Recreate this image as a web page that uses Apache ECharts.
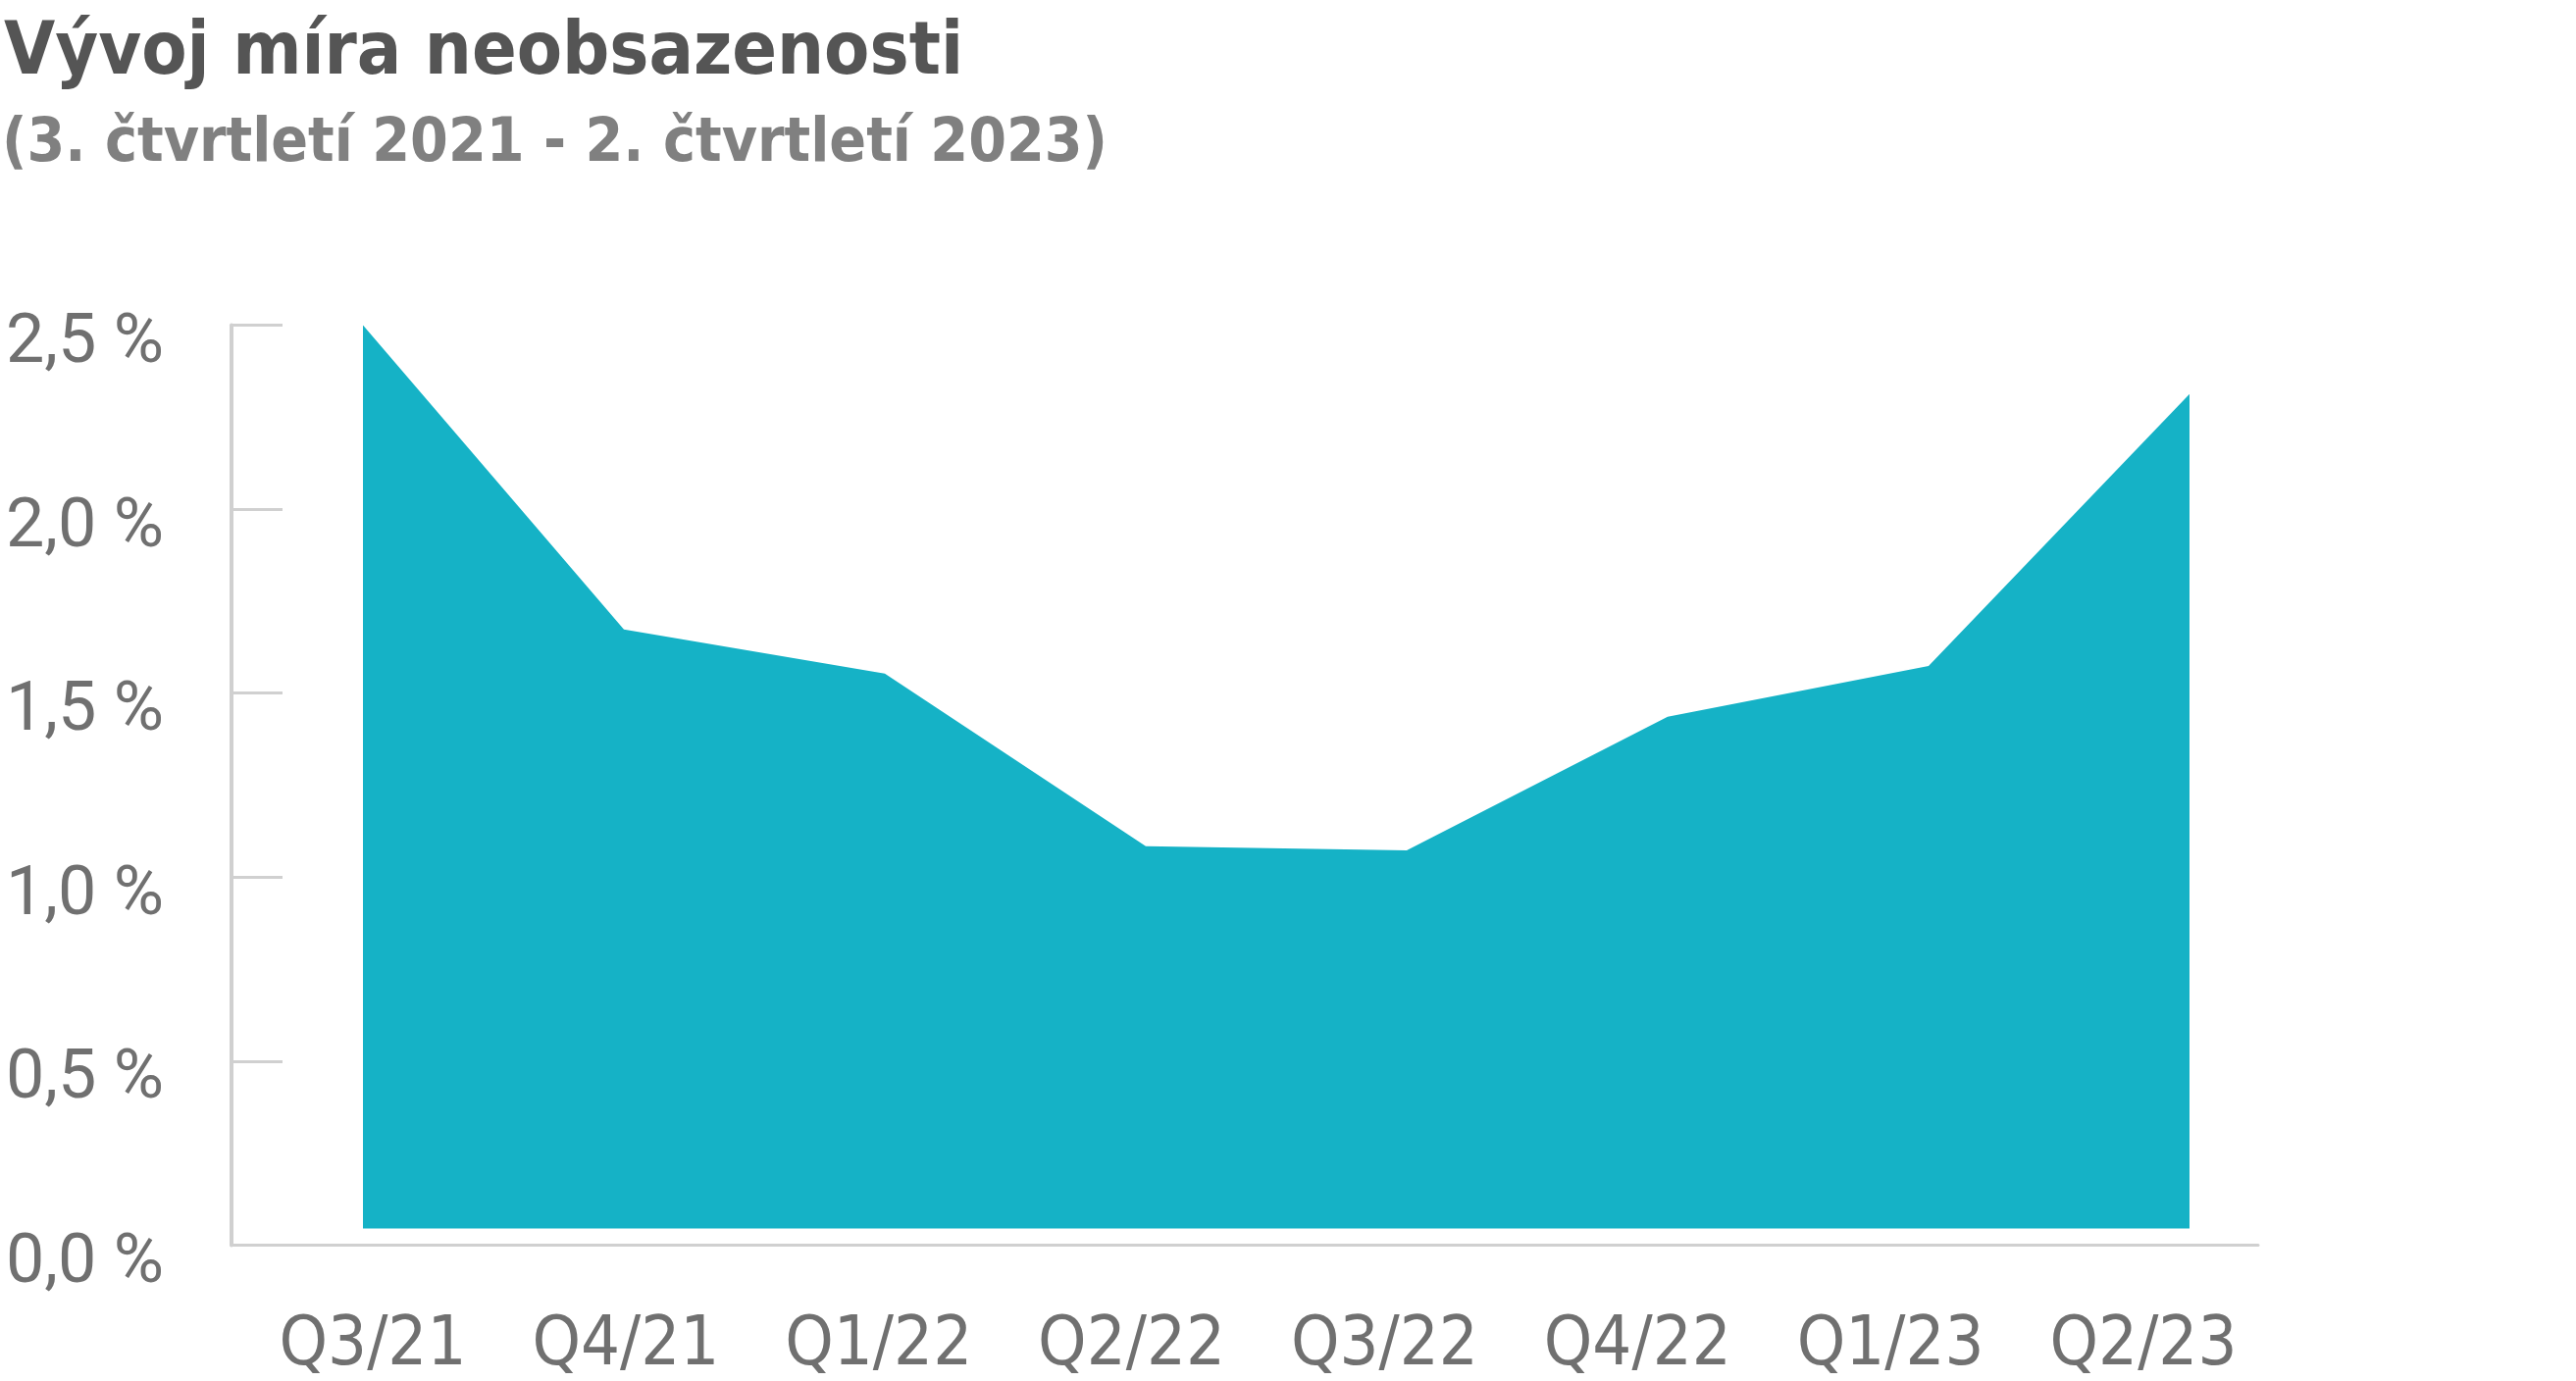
<!DOCTYPE html>
<html>
<head>
<meta charset="utf-8">
<script src="https://cdn.jsdelivr.net/npm/echarts@6/dist/echarts.min.js"></script>
<style>
html,body{margin:0;padding:0;background:#fff;}
#chart{width:2626px;height:1408px;}
</style>
</head>
<body>
<div id="chart"></div>
<script>
const titleText = 'Vývoj míra neobsazenosti';
const subtitleText = '(3. čtvrtletí 2021 - 2. čtvrtletí 2023)';
const categories = ['Q3/21', 'Q4/21', 'Q1/22', 'Q2/22', 'Q3/22', 'Q4/22', 'Q1/23', 'Q2/23'];
const vacancyRate = [2.50, 1.673, 1.553, 1.084, 1.073, 1.436, 1.574, 2.313];
const areaBase = 0.045;
const yTicks = [0, 0.5, 1.0, 1.5, 2.0, 2.5];

const chart = echarts.init(document.getElementById('chart'));
const narrow = '"DejaVu Sans Condensed", "DejaVu Sans", sans-serif';
const fmt = v => v.toFixed(1).replace('.', ',') + ' %';
const yMin = yTicks[0], yMax = yTicks[yTicks.length - 1], yStep = yTicks[1] - yTicks[0];

const option = {
  animation: false,
  backgroundColor: '#ffffff',
  title: [
    { text: titleText, left: 4, top: 18, padding: 0,
      textStyle: { fontFamily: narrow, fontWeight: 'bold', fontSize: 75, color: '#555555' } },
    { text: subtitleText, left: 2, top: 117, padding: 0,
      textStyle: { fontFamily: narrow, fontWeight: 'bold', fontSize: 62, color: '#808080' } }
  ],
  grid: [
    { left: 370, right: 394, top: 331.6, bottom: 138.6 },
    { left: 236, right: 324, top: 331.6, bottom: 138.6 },
    { left: 380, right: 441, top: 331.6, bottom: 138.6 },
    { left: 236, right: 324, top: 351.6, bottom: 118.6 }
  ],
  xAxis: [
    { type: 'category', gridIndex: 0, data: categories, boundaryGap: false,
      axisLine: { show: false }, axisTick: { show: false }, axisLabel: { show: false }, splitLine: { show: false } },
    { type: 'category', gridIndex: 1, data: categories, boundaryGap: false,
      axisLine: { show: true, lineStyle: { color: '#d0d0d0', width: 3 } },
      axisTick: { show: false }, axisLabel: { show: false }, splitLine: { show: false } },
    { type: 'category', gridIndex: 2, data: categories, boundaryGap: false,
      axisLine: { show: false }, axisTick: { show: false }, splitLine: { show: false },
      axisLabel: { show: true, interval: 0, margin: 94, fontFamily: narrow, fontSize: 70, color: '#707070' } },
    { type: 'category', gridIndex: 3, data: categories, show: false }
  ],
  yAxis: [
    { type: 'value', gridIndex: 0, min: yMin, max: yMax, interval: yStep, show: false },
    { type: 'value', gridIndex: 1, min: yMin, max: yMax, interval: yStep,
      axisLine: { show: true, lineStyle: { color: '#d0d0d0', width: 4 } },
      axisTick: { show: true, inside: true, length: 52, lineStyle: { color: '#d0d0d0', width: 3 } },
      splitLine: { show: false }, axisLabel: { show: false } },
    { type: 'value', gridIndex: 2, min: yMin, max: yMax, interval: yStep, show: false },
    { type: 'value', gridIndex: 3, min: yMin, max: yMax, interval: yStep,
      axisLine: { show: false }, axisTick: { show: false }, splitLine: { show: false },
      axisLabel: { show: true, align: 'left', margin: 230,
        fontFamily: 'Roboto, sans-serif', fontSize: 70, color: '#707070', formatter: fmt } }
  ],
  series: [
    { type: 'line', xAxisIndex: 0, yAxisIndex: 0, data: vacancyRate,
      showSymbol: false, symbol: 'none',
      lineStyle: { width: 0 },
      areaStyle: { color: '#15b2c6', opacity: 1, origin: areaBase } },
    { type: 'line', xAxisIndex: 1, yAxisIndex: 1, data: [], silent: true },
    { type: 'line', xAxisIndex: 2, yAxisIndex: 2, data: [], silent: true },
    { type: 'line', xAxisIndex: 3, yAxisIndex: 3, data: [], silent: true }
  ]
};
chart.setOption(option);
</script>
</body>
</html>
